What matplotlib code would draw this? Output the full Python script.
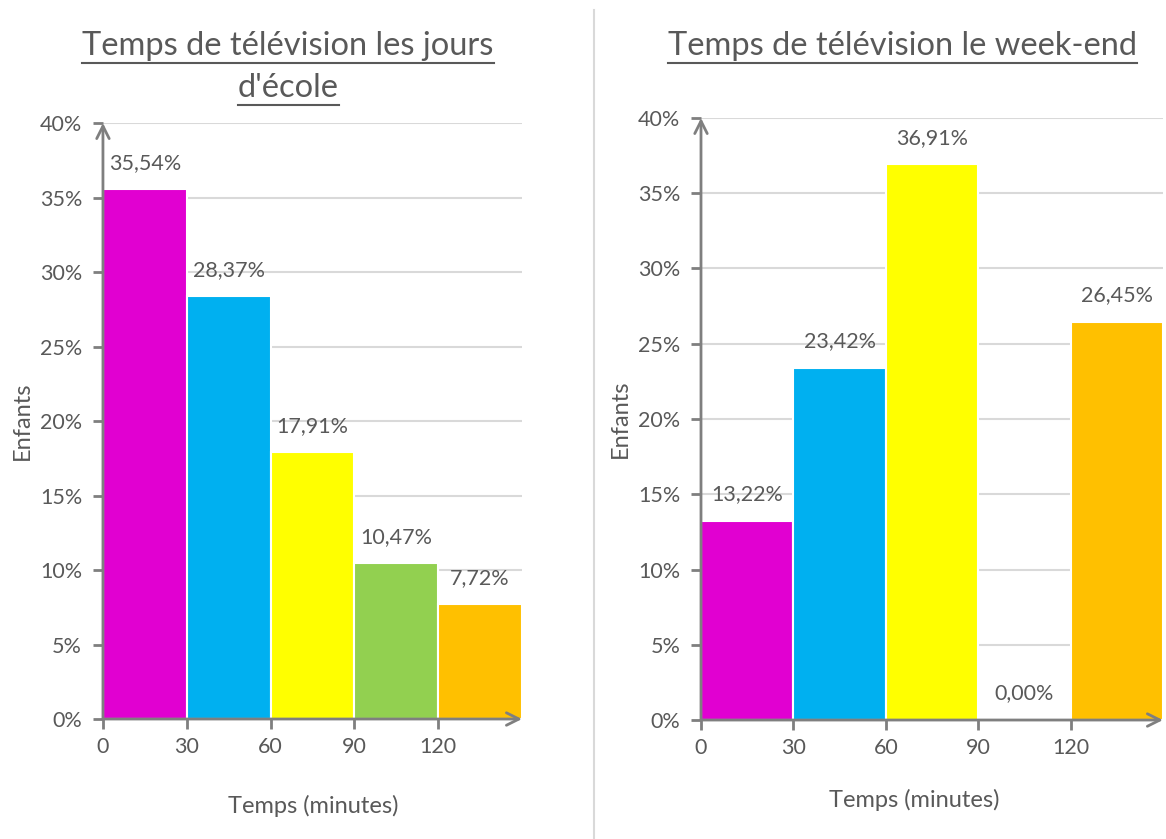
import matplotlib.pyplot as plt

plt.rcParams['font.family'] = ['Lato', 'DejaVu Sans']

edges = [0, 30, 60, 90, 120]
colors = ['#E100D1', '#00B0F0', '#FFFF00', '#92D050', '#FFC000']
school = [35.54, 28.37, 17.91, 10.47, 7.72]
weekend = [13.22, 23.42, 36.91, 0.00, 26.45]
xticks = [0, 30, 60, 90, 120]
yticks = [0, 5, 10, 15, 20, 25, 30, 35, 40]

grey = '#595959'
axc = '#7F7F7F'

fig = plt.figure(figsize=(11.66, 8.39), dpi=100)
ax1 = fig.add_axes([0.0883, 0.1430, 0.3594, 0.7104])
ax2 = fig.add_axes([0.6012, 0.1418, 0.3962, 0.7176])


def draw(ax, vals):
    ax.bar(edges, vals, width=30, align='edge', color=colors,
           edgecolor='white', linewidth=1.5, zorder=3)
    for x, v in zip(edges, vals):
        ax.text(x + 15, v + 1.1, f"{v:.2f}%".replace('.', ','),
                ha='center', va='bottom', fontsize=15.5, color=grey, zorder=4)
    ax.set_xlim(0, 150)
    ax.set_ylim(0, 40)
    ax.set_yticks(yticks)
    ax.set_yticklabels([f"{t}%" for t in yticks])
    ax.set_xticks(xticks)
    ax.set_xticklabels([str(t) for t in xticks])
    ax.yaxis.grid(True, color='#D9D9D9', linewidth=1.5, zorder=0)
    ax.set_axisbelow(True)
    for s in ax.spines.values():
        s.set_visible(False)
    ax.tick_params(axis='both', colors=axc, labelcolor=grey, labelsize=15.5,
                   length=7, width=2)
    ax.tick_params(axis='y', pad=8)
    ax.tick_params(axis='x', pad=6)
    ax.set_ylabel('Enfants', fontsize=17, color=grey, labelpad=5)
    ax.annotate('', xy=(0, 40), xytext=(0, 0), xycoords='data',
                arrowprops=dict(arrowstyle='->,head_length=0.9,head_width=0.45',
                                color=axc, lw=2, shrinkA=0, shrinkB=0),
                annotation_clip=False, zorder=5)
    ax.annotate('', xy=(150, 0), xytext=(0, 0), xycoords='data',
                arrowprops=dict(arrowstyle='->,head_length=0.9,head_width=0.45',
                                color=axc, lw=2, shrinkA=0, shrinkB=0),
                annotation_clip=False, zorder=5)


draw(ax1, school)
draw(ax2, weekend)

fig.text(0.269, 0.0393, 'Temps (minutes)', ha='center', va='center',
         fontsize=17, color=grey)
fig.text(0.784, 0.0465, 'Temps (minutes)', ha='center', va='center',
         fontsize=17, color=grey)

titles = [
    (0.247, 0.945, 'Temps de télévision les jours'),
    (0.247, 0.895, "d'école"),
    (0.7736, 0.945, 'Temps de télévision le week-end'),
]
title_objs = [fig.text(x, y, t, ha='center', va='center', fontsize=23.5, color=grey)
              for x, y, t in titles]

# divider between the two charts
fig.add_artist(plt.Line2D([594 / 1166, 594 / 1166], [0, 1 - 10 / 839],
                          color='#D9D9D9', lw=1.5))

# underline titles
fig.canvas.draw()
r = fig.canvas.get_renderer()
for t in title_objs:
    bb = t.get_window_extent(r)
    x0, x1 = bb.x0 / 1166, bb.x1 / 1166
    y = (bb.y0 - 2) / 839
    fig.add_artist(plt.Line2D([x0, x1], [y, y], color=grey, lw=1.5))

fig.savefig('out.png', dpi=100)
